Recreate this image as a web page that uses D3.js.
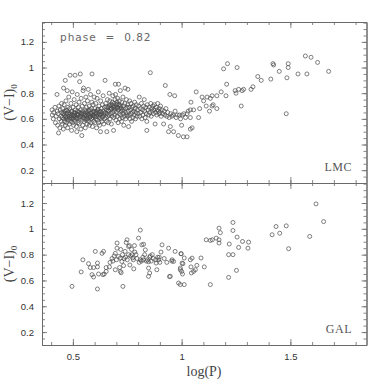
<!DOCTYPE html>
<html>
<head>
<meta charset="utf-8">
<script src="https://cdn.jsdelivr.net/npm/d3@7"></script>
<style>
body { margin: 0; background: #fff; }
</style>
</head>
<body>
<script>
// log(P), (V-I)0 pairs
var lmcPoints = [
[0.404,0.67],[0.405,0.63],[0.41,0.60],[0.412,0.65],[0.418,0.69],[0.42,0.57],[0.423,0.62],[0.427,0.79],[0.428,0.66],[0.43,0.55],
[0.432,0.64],[0.434,0.49],[0.436,0.70],[0.438,0.60],[0.44,0.53],[0.442,0.67],[0.445,0.62],[0.447,0.58],[0.448,0.72],[0.449,0.65],
[0.451,0.61],[0.452,0.56],[0.453,0.68],[0.455,0.64],[0.456,0.52],[0.457,0.84],[0.458,0.60],[0.46,0.71],[0.461,0.63],[0.462,0.58],
[0.463,0.66],[0.465,0.90],[0.465,0.55],[0.466,0.62],[0.468,0.74],[0.469,0.60],[0.47,0.67],[0.471,0.57],[0.472,0.64],[0.474,0.82],
[0.475,0.61],[0.476,0.53],[0.477,0.69],[0.478,0.59],[0.48,0.65],[0.481,0.77],[0.482,0.62],[0.484,0.56],[0.485,0.68],[0.486,0.60],
[0.487,0.94],[0.488,0.64],[0.49,0.58],[0.491,0.72],[0.492,0.62],[0.494,0.51],[0.495,0.66],[0.496,0.60],[0.497,0.81],[0.498,0.63],
[0.499,0.57],[0.501,0.69],[0.502,0.61],[0.503,0.55],[0.505,0.65],[0.506,0.75],[0.507,0.59],[0.508,0.63],[0.51,0.94],[0.511,0.67],
[0.512,0.58],[0.513,0.62],[0.515,0.71],[0.516,0.54],[0.517,0.64],[0.518,0.50],[0.519,0.60],[0.52,0.79],[0.521,0.66],[0.523,0.57],
[0.524,0.63],[0.525,0.69],[0.526,0.61],[0.528,0.73],[0.529,0.56],[0.53,0.65],[0.531,0.89],[0.532,0.60],[0.534,0.95],[0.535,0.67],
[0.536,0.62],[0.537,0.52],[0.538,0.76],[0.539,0.64],[0.541,0.47],[0.542,0.59],[0.543,0.70],[0.544,0.63],[0.545,0.55],[0.546,0.66],
[0.547,0.82],[0.548,0.61],[0.549,0.84],[0.551,0.58],[0.552,0.64],[0.553,0.72],[0.555,0.60],[0.556,0.67],[0.557,0.53],[0.558,0.63],
[0.56,0.77],[0.561,0.59],[0.562,0.69],[0.563,0.62],[0.565,0.56],[0.566,0.65],[0.567,0.74],[0.568,0.60],[0.57,0.66],[0.571,0.83],
[0.572,0.58],[0.573,0.63],[0.575,0.70],[0.576,0.55],[0.577,0.61],[0.578,0.67],[0.58,0.64],[0.581,0.79],[0.582,0.57],[0.583,0.62],
[0.585,0.68],[0.586,0.60],[0.587,0.73],[0.588,0.95],[0.589,0.65],[0.59,0.54],[0.592,0.61],[0.593,0.71],[0.594,0.63],[0.595,0.58],
[0.596,0.66],[0.598,0.77],[0.599,0.62],[0.601,0.68],[0.602,0.57],[0.604,0.64],[0.605,0.72],[0.606,0.60],[0.607,0.66],[0.609,0.53],
[0.61,0.62],[0.611,0.76],[0.613,0.59],[0.614,0.67],[0.615,0.63],[0.617,0.81],[0.618,0.57],[0.619,0.65],[0.62,0.70],[0.622,0.61],
[0.623,0.55],[0.624,0.66],[0.626,0.63],[0.627,0.50],[0.628,0.74],[0.63,0.60],[0.631,0.68],[0.633,0.64],[0.634,0.58],[0.636,0.71],
[0.637,0.62],[0.639,0.78],[0.64,0.66],[0.642,0.56],[0.643,0.63],[0.645,0.69],[0.646,0.60],[0.648,0.90],[0.649,0.65],[0.651,0.72],
[0.652,0.61],[0.654,0.67],[0.655,0.58],[0.656,0.50],[0.657,0.64],[0.659,0.75],[0.66,0.62],[0.661,0.69],[0.663,0.57],[0.664,0.66],
[0.666,0.63],[0.667,0.80],[0.668,0.70],[0.67,0.74],[0.671,0.60],[0.673,0.67],[0.674,0.64],[0.676,0.71],[0.677,0.56],[0.678,0.68],
[0.68,0.62],[0.681,0.73],[0.683,0.65],[0.684,0.78],[0.686,0.69],[0.687,0.51],[0.688,0.61],[0.69,0.72],[0.691,0.66],[0.693,0.63],
[0.694,0.75],[0.695,0.87],[0.696,0.79],[0.697,0.68],[0.698,0.59],[0.699,0.71],[0.701,0.65],[0.702,0.73],[0.704,0.62],[0.705,0.69],
[0.706,0.76],[0.708,0.57],[0.709,0.67],[0.71,0.87],[0.711,0.71],[0.713,0.64],[0.714,0.74],[0.716,0.60],[0.717,0.68],[0.718,0.82],
[0.72,0.63],[0.721,0.70],[0.723,0.66],[0.724,0.58],[0.725,0.73],[0.727,0.61],[0.728,0.67],[0.73,0.77],[0.731,0.64],[0.733,0.70],
[0.734,0.55],[0.736,0.66],[0.737,0.62],[0.739,0.72],[0.74,0.84],[0.742,0.68],[0.743,0.60],[0.745,0.65],[0.746,0.75],[0.748,0.63],
[0.749,0.69],[0.751,0.62],[0.752,0.71],[0.753,0.83],[0.755,0.66],[0.756,0.54],[0.758,0.69],[0.759,0.63],[0.761,0.74],[0.763,0.60],
[0.765,0.67],[0.767,0.72],[0.768,0.64],[0.77,0.58],[0.772,0.69],[0.774,0.65],[0.776,0.61],[0.778,0.70],[0.78,0.66],[0.782,0.63],
[0.784,0.73],[0.786,0.68],[0.788,0.60],[0.79,0.65],[0.792,0.71],[0.795,0.62],[0.797,0.67],[0.80,0.64],[0.802,0.70],[0.805,0.77],
[0.807,0.62],[0.81,0.68],[0.812,0.65],[0.815,0.72],[0.817,0.60],[0.82,0.67],[0.822,0.63],[0.825,0.70],[0.828,0.75],[0.83,0.66],
[0.832,0.61],[0.835,0.69],[0.838,0.64],[0.84,0.58],[0.84,0.51],[0.842,0.71],[0.845,0.67],[0.848,0.63],[0.851,0.69],[0.853,0.65],
[0.856,0.96],[0.858,0.72],[0.86,0.62],[0.863,0.68],[0.865,0.66],[0.868,0.70],[0.87,0.64],[0.873,0.67],[0.875,0.71],[0.878,0.56],
[0.88,0.65],[0.883,0.69],[0.886,0.63],[0.888,0.67],[0.89,0.72],[0.893,0.66],[0.896,0.64],[0.898,0.68],[0.90,0.65],[0.903,0.70],
[0.906,0.62],[0.91,0.67],[0.913,0.64],[0.917,0.56],[0.92,0.66],[0.923,0.63],[0.925,0.86],[0.928,0.68],[0.932,0.62],[0.936,0.65],
[0.94,0.50],[0.943,0.61],[0.946,0.79],[0.948,0.54],[0.95,0.64],[0.955,0.62],[0.96,0.63],[0.963,0.50],[0.968,0.78],[0.97,0.66],
[0.975,0.61],[0.98,0.63],[0.985,0.47],[0.99,0.63],[0.995,0.60],[1.0,0.55],[1.003,0.63],[1.008,0.46],[1.01,0.64],[1.018,0.61],
[1.025,0.46],[1.025,0.64],[1.03,0.66],[1.04,0.61],[1.04,0.67],[1.043,0.73],[1.04,0.52],[1.048,0.53],[1.055,0.67],[1.067,0.81],
[1.078,0.61],[1.083,0.68],[1.094,0.77],[1.101,0.74],[1.117,0.77],[1.113,0.70],[1.128,0.66],[1.132,0.76],[1.14,0.78],[1.14,0.70],
[1.145,0.71],[1.162,0.68],[1.162,0.78],[1.182,0.81],[1.193,0.99],[1.204,0.78],[1.207,0.87],[1.211,1.03],[1.246,0.82],[1.25,0.80],
[1.255,1.00],[1.262,0.83],[1.274,0.70],[1.278,0.82],[1.285,0.83],[1.319,0.83],[1.328,0.85],[1.35,0.93],[1.366,0.90],[1.41,0.91],
[1.42,1.03],[1.423,1.02],[1.449,0.97],[1.481,0.64],[1.484,0.92],[1.49,1.03],[1.49,1.00],[1.535,0.95],[1.569,1.09],[1.576,0.95],
[1.595,1.08],[1.625,1.04],[1.676,0.97],
[0.459,0.645],[0.467,0.615],[0.473,0.665],[0.483,0.635],[0.489,0.61],[0.493,0.655],[0.504,0.625],[0.509,0.645],[0.514,0.605],[0.522,0.635],
[0.527,0.655],[0.533,0.615],[0.54,0.645],[0.554,0.625],[0.559,0.655],[0.564,0.605],[0.569,0.635],[0.574,0.665],[0.579,0.615],[0.584,0.645],
[0.591,0.625],[0.597,0.655],[0.603,0.615],[0.608,0.645],[0.616,0.675],[0.621,0.635],[0.629,0.655],[0.635,0.615],[0.644,0.645],[0.653,0.695],
[0.662,0.665],[0.669,0.705],[0.675,0.685],[0.682,0.705],[0.689,0.675],[0.692,0.695],[0.703,0.715],[0.707,0.685],[0.715,0.705],[0.722,0.685]
];

var galPoints = [
[0.496,0.554],[0.538,0.666],[0.546,0.76],[0.572,0.73],[0.58,0.70],[0.595,0.70],[0.588,0.645],[0.595,0.627],[0.603,0.825],[0.613,0.534],
[0.613,0.735],[0.613,0.705],[0.618,0.65],[0.634,0.81],[0.641,0.825],[0.638,0.645],[0.644,0.65],[0.653,0.70],[0.653,0.67],[0.668,0.705],
[0.671,0.74],[0.68,0.77],[0.684,0.75],[0.695,0.683],[0.70,0.76],[0.703,0.85],[0.703,0.89],[0.71,0.786],[0.718,0.773],[0.715,0.70],
[0.718,0.67],[0.722,0.66],[0.725,0.747],[0.73,0.554],[0.733,0.715],[0.735,0.77],[0.74,0.825],[0.745,0.894],[0.749,0.915],[0.756,0.863],
[0.756,0.80],[0.762,0.72],[0.772,0.80],[0.775,0.775],[0.778,0.76],[0.78,0.69],[0.785,0.82],[0.79,0.80],[0.802,0.928],[0.81,0.99],
[0.81,0.76],[0.815,0.75],[0.817,0.876],[0.822,0.78],[0.833,0.837],[0.838,0.75],[0.843,0.76],[0.848,0.745],[0.853,0.78],[0.856,0.79],
[0.848,0.696],[0.848,0.632],[0.853,0.658],[0.883,0.735],[0.886,0.683],[0.897,0.78],[0.895,0.76],[0.90,0.74],[0.91,0.876],[0.932,0.74],
[0.94,0.85],[0.948,0.632],[0.956,0.76],[0.963,0.747],[0.97,0.825],[0.986,0.58],[0.994,0.568],[0.994,0.696],[0.994,0.683],[0.997,0.807],
[1.006,0.73],[1.012,0.568],[1.012,0.774],[1.002,0.735],[1.0,0.67],[1.004,0.65],[1.04,0.76],[1.048,0.773],[1.043,0.705],[1.045,0.658],
[1.055,0.67],[1.063,0.683],[1.07,0.717],[1.089,0.774],[1.104,0.705],[1.113,0.915],[1.132,0.91],[1.141,0.915],[1.132,0.568],[1.159,0.928],
[1.172,1.005],[1.178,0.97],[1.172,0.915],[1.172,0.89],[1.219,0.882],[1.216,0.80],[1.236,0.80],[1.216,0.624],[1.236,1.049],[1.236,0.987],
[1.255,0.936],[1.252,0.678],[1.262,0.856],[1.28,0.902],[1.308,0.897],[1.305,0.85],[1.416,0.954],[1.434,1.018],[1.451,0.966],[1.481,1.023],
[1.492,0.846],[1.589,0.941],[1.618,1.193],[1.653,1.056],
[0.69,0.79],[0.695,0.81],[0.72,0.84],[0.728,0.80],[0.742,0.78],[0.75,0.76],[0.76,0.87],[0.765,0.79],[0.77,0.84],[0.783,0.87],
[0.795,0.77],[0.805,0.74],[0.825,0.76],[0.83,0.80],[0.86,0.75],[0.865,0.80],[0.87,0.77],[0.88,0.76],[0.89,0.78],[0.905,0.82],
[0.92,0.77],[0.825,0.88],[0.998,0.807],[0.955,0.75],[0.944,0.63]
];

var panelNames = ["LMC", "GAL"];
var xMajorTicks = [0.5, 1, 1.5];
var yMajorTicks = [0.2, 0.4, 0.6, 0.8, 1, 1.2];
var phaseText = "phase = 0.82";
var xTitle = "log(P)";

var width = 387, height = 387;
var frameLeft = 42, frameRight = 366.5;
var panelTops = [22, 183], panelBottoms = [183, 345];
var ink = "#6a6a6a";

var xMinorTicks = d3.range(4, 19).map(function(d) { return d / 10; });
var yMinorTicks = d3.range(2, 28).map(function(d) { return d / 20; });

var x = d3.scaleLinear()
  .domain([0.358, 1.85])
  .range([frameLeft, frameRight]);

var svg = d3.select("body")
  .append("svg")
  .attr("width", width)
  .attr("height", height);

function fmt(d) { return String(d); }

function styleAxis(g, labels) {
  g.select(".domain").attr("stroke", ink).attr("stroke-width", 1);
  g.selectAll(".tick line").attr("stroke", ink).attr("stroke-width", 0.8);
  g.selectAll(".tick text")
    .attr("fill", labels ? "#333" : "none")
    .style("font-family", "'Liberation Sans', Arial, sans-serif")
    .style("font-size", "9.5px");
}

function drawPanel(i, data) {
  var y = d3.scaleLinear()
    .domain([0.1, 1.355])
    .range([panelBottoms[i], panelTops[i]]);
  var g = svg.append("g").attr("class", "panel");
  var lastPanel = (i === 1);

  // minor ticks on all four sides
  [[d3.axisBottom(x), "translate(0," + panelBottoms[i] + ")", xMinorTicks],
   [d3.axisTop(x), "translate(0," + panelTops[i] + ")", xMinorTicks],
   [d3.axisLeft(y), "translate(" + frameLeft + ",0)", yMinorTicks],
   [d3.axisRight(y), "translate(" + frameRight + ",0)", yMinorTicks]
  ].forEach(function(a) {
    g.append("g")
      .attr("transform", a[1])
      .call(a[0].tickValues(a[2]).tickSize(-3).tickSizeOuter(0).tickFormat(""))
      .call(styleAxis, false);
  });

  // major ticks
  g.append("g")
    .attr("transform", "translate(0," + panelBottoms[i] + ")")
    .call(d3.axisBottom(x).tickValues(xMajorTicks).tickSize(-6).tickSizeOuter(0)
      .tickPadding(8).tickFormat(lastPanel ? fmt : ""))
    .call(styleAxis, lastPanel);
  g.append("g")
    .attr("transform", "translate(0," + panelTops[i] + ")")
    .call(d3.axisTop(x).tickValues(xMajorTicks).tickSize(-6).tickSizeOuter(0).tickFormat(""))
    .call(styleAxis, false);
  g.append("g")
    .attr("transform", "translate(" + frameLeft + ",0)")
    .call(d3.axisLeft(y).tickValues(yMajorTicks).tickSize(-5).tickSizeOuter(0)
      .tickPadding(8).tickFormat(fmt))
    .call(styleAxis, true);
  g.append("g")
    .attr("transform", "translate(" + frameRight + ",0)")
    .call(d3.axisRight(y).tickValues(yMajorTicks).tickSize(-5).tickSizeOuter(0).tickFormat(""))
    .call(styleAxis, false);

  g.append("g")
    .selectAll("circle")
    .data(data)
    .enter()
    .append("circle")
    .attr("cx", function(d) { return x(d[0]); })
    .attr("cy", function(d) { return y(d[1]); })
    .attr("r", 2)
    .attr("fill", "none")
    .attr("stroke", "#4a4a4a")
    .attr("stroke-width", 0.7);

  // panel name, bottom right
  g.append("text")
    .attr("x", 352)
    .attr("y", panelBottoms[i] - 12)
    .attr("text-anchor", "end")
    .style("font-family", "'Liberation Serif', 'Times New Roman', serif")
    .style("font-size", "12px")
    .style("letter-spacing", "0.5px")
    .attr("fill", "#555")
    .text(panelNames[i]);

  // y title (V-I)0
  var yt = g.append("text")
    .attr("transform", "translate(14," + ((panelTops[i] + panelBottoms[i]) / 2) + ") rotate(-90)")
    .attr("text-anchor", "middle")
    .style("font-family", "'Liberation Serif', 'Times New Roman', serif")
    .style("font-size", "14px")
    .attr("fill", "#444");
  yt.append("tspan").text("(V\u2212I)");
  yt.append("tspan").attr("dy", 3).style("font-size", "9px").text("0");
}

drawPanel(0, lmcPoints);
drawPanel(1, galPoints);

svg.append("text")
  .attr("x", 60)
  .attr("y", 41)
  .style("font-family", "'DejaVu Sans', sans-serif")
  .style("font-size", "10.5px")
  .style("letter-spacing", "1px")
  .style("word-spacing", "4.5px")
  .attr("fill", "#666")
  .text(phaseText);

svg.append("text")
  .attr("x", 204)
  .attr("y", 376)
  .attr("text-anchor", "middle")
  .style("font-family", "'Liberation Serif', 'Times New Roman', serif")
  .style("font-size", "14px")
  .attr("fill", "#444")
  .text(xTitle);
</script>
</body>
</html>
